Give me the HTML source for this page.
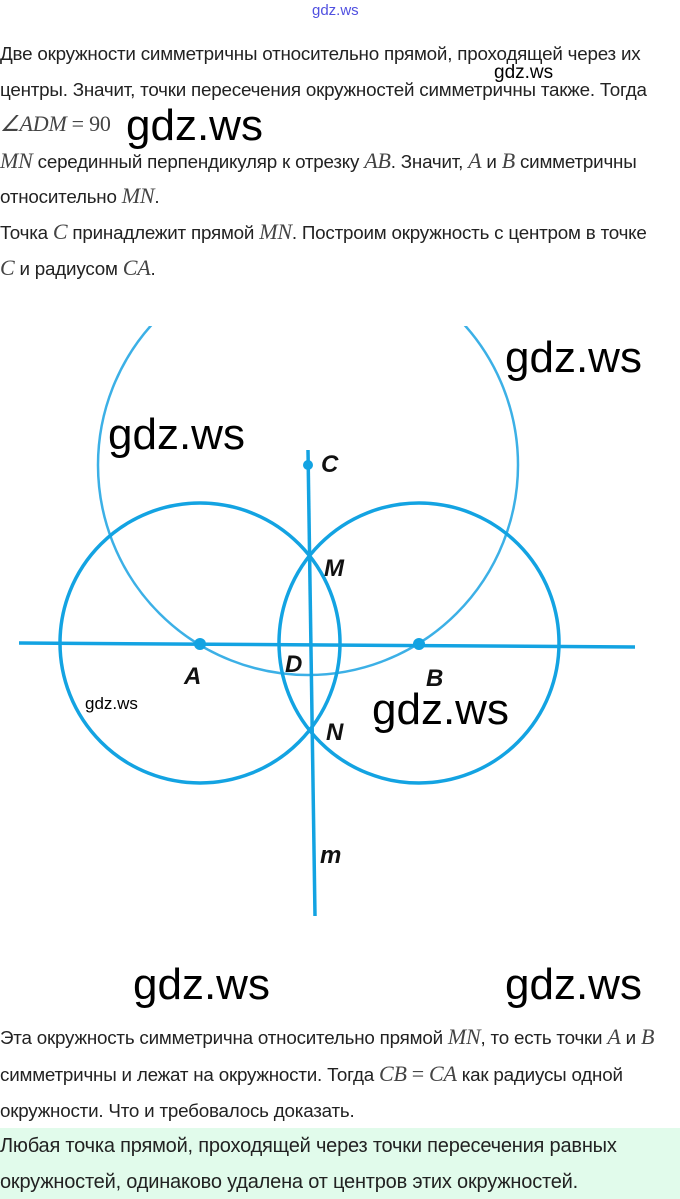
<!DOCTYPE html>
<html><head><meta charset="utf-8"><style>
body{margin:0;width:680px;height:1199px;background:#fff;position:relative;overflow:hidden;font-family:"Liberation Sans","DejaVu Sans",sans-serif;color:#222}
.t{position:absolute;left:0;font-size:18.8px;white-space:nowrap;line-height:22px;letter-spacing:-0.2px}
.m{font-family:"Liberation Serif",serif;font-style:italic;font-size:22px;color:#444}
.w{position:absolute;font-family:"Liberation Sans",sans-serif;color:#000;white-space:nowrap;line-height:1}
</style></head><body>
<div class="w" style="left:312px;top:3px;font-size:15px;color:#5050e0">gdz.ws</div>
<div class="t" style="top:43px">Две окружности симметричны относительно прямой, проходящей через их</div>
<div class="w" style="left:494px;top:63px;font-size:19px">gdz.ws</div>
<div class="t" style="top:79px">центры. Значит, точки пересечения окружностей симметричны также. Тогда</div>
<div class="t" style="top:113px"><span class="m">∠ADM</span> <span class="m" style="font-style:normal">= 90</span></div>
<div class="w" style="left:126px;top:104px;font-size:44px">gdz.ws</div>
<div class="t" style="top:150px"><span class="m">MN</span> серединный перпендикуляр к отрезку <span class="m">AB</span>. Значит, <span class="m">A</span> и <span class="m">B</span> симметричны</div>
<div class="t" style="top:185px">относительно <span class="m">MN</span>.</div>
<div class="t" style="top:221px">Точка <span class="m">C</span> принадлежит прямой <span class="m">MN</span>. Построим окружность с центром в точке</div>
<div class="t" style="top:257px"><span class="m">C</span> и радиусом <span class="m">CA</span>.</div>
<svg style="position:absolute;left:0;top:0" width="680" height="1199">
<defs><clipPath id="c"><rect x="0" y="326" width="680" height="700"/></clipPath></defs>
<circle cx="308" cy="465" r="210" fill="none" stroke="#3cb0e6" stroke-width="2.5" clip-path="url(#c)"/>
<circle cx="200" cy="643" r="140" fill="none" stroke="#13a3e2" stroke-width="3.5"/>
<circle cx="419" cy="643" r="140" fill="none" stroke="#13a3e2" stroke-width="3.5"/>
<line x1="19" y1="643" x2="635" y2="647" stroke="#13a3e2" stroke-width="3.5"/>
<line x1="308" y1="450" x2="315" y2="916" stroke="#13a3e2" stroke-width="3.5"/>
<circle cx="308" cy="465" r="5" fill="#13a3e2"/>
<circle cx="200" cy="644" r="6" fill="#13a3e2"/>
<circle cx="419" cy="644" r="6" fill="#13a3e2"/>
<g font-family="Liberation Sans,sans-serif" font-style="italic" font-weight="bold" font-size="24" fill="#111">
<text x="321" y="472">C</text><text x="324" y="576">M</text><text x="285" y="672">D</text>
<text x="184" y="684">A</text><text x="426" y="686">B</text><text x="326" y="740">N</text><text x="320" y="863">m</text>
</g></svg>
<div class="w" style="left:505px;top:336px;font-size:44px">gdz.ws</div>
<div class="w" style="left:108px;top:413px;font-size:44px">gdz.ws</div>
<div class="w" style="left:85px;top:695px;font-size:17px">gdz.ws</div>
<div class="w" style="left:372px;top:688px;font-size:44px">gdz.ws</div>
<div class="w" style="left:133px;top:963px;font-size:44px">gdz.ws</div>
<div class="w" style="left:505px;top:963px;font-size:44px">gdz.ws</div>
<div class="t" style="top:1026px">Эта окружность симметрична относительно прямой <span class="m">MN</span>, то есть точки <span class="m">A</span> и <span class="m">B</span></div>
<div class="t" style="top:1063px">симметричны и лежат на окружности. Тогда <span class="m">CB</span> <span class="m" style="font-style:normal">=</span> <span class="m">CA</span> как радиусы одной</div>
<div class="t" style="top:1100px">окружности. Что и требовалось доказать.</div>
<div style="position:absolute;left:0;top:1128px;width:680px;height:71px;background:#e1fbeb"></div>
<div class="t" style="top:1135px;font-size:20px">Любая точка прямой, проходящей через точки пересечения равных</div>
<div class="t" style="top:1171px;font-size:20px">окружностей, одинаково удалена от центров этих окружностей.</div>
</body></html>
